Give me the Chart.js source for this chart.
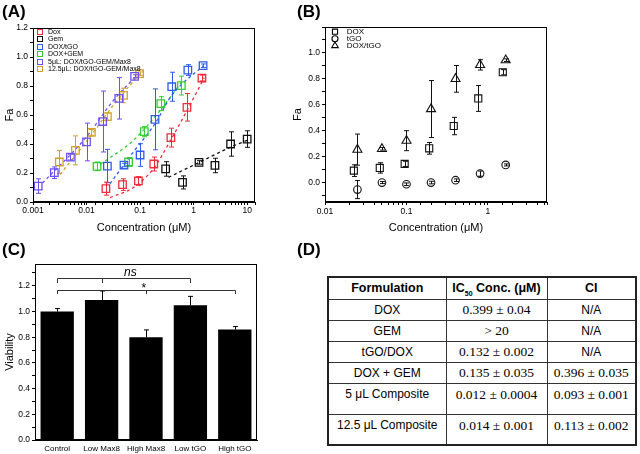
<!DOCTYPE html>
<html><head><meta charset="utf-8">
<script src="https://cdn.jsdelivr.net/npm/chart.js@4.4.1/dist/chart.umd.min.js"></script>
<style>
html,body{margin:0;padding:0;background:#fff;}
body{width:640px;height:454px;position:relative;overflow:hidden;font-family:"Liberation Sans",Arial,sans-serif;color:#000;}
canvas{position:absolute;}
.pl{position:absolute;font-weight:bold;font-size:17px;line-height:17px;}
#tbl{position:absolute;left:327px;top:276px;border-collapse:collapse;border:2px solid #222;table-layout:fixed;}
#tbl td{border:1px solid #333;text-align:center;padding:0;font-size:12px;vertical-align:middle;white-space:nowrap;color:#000;}
#tbl tr.h td{font-weight:bold;font-size:12.5px;}
#tbl td.top{vertical-align:top;padding-top:3px;}
.num{font-family:"Liberation Serif","Times New Roman",serif;font-size:13.5px;}
sub{font-size:7px;color:#000;}
</style></head><body>
<canvas id="cA" width="320" height="240" style="left:0;top:0"></canvas>
<canvas id="cB" width="360" height="240" style="left:280px;top:0"></canvas>
<canvas id="cC" width="320" height="214" style="left:0;top:240px"></canvas>
<div class="pl" style="left:2px;top:3px">(A)</div>
<div class="pl" style="left:297px;top:3px">(B)</div>
<div class="pl" style="left:2px;top:241px">(C)</div>
<div class="pl" style="left:297px;top:241px">(D)</div>
<table id="tbl"><colgroup><col style="width:118px"><col style="width:101px"><col style="width:89px"></colgroup><tbody id="tb"></tbody></table>
<script>
// ---------- Panel A data ----------
const aLegendLabels = ['Dox','Gem','DOX/tGO','DOX+GEM','5μL: DOX/tGO-GEM/Max8','12.5μL: DOX/tGO-GEM/Max8'];
const aDoxX = [0.023,0.047,0.093,0.18,0.376,0.75,1.43];
const aDoxY = [0.092,0.12,0.145,0.262,0.444,0.653,0.855];
const aDoxErr = [0.045,0.04,0.03,0.048,0.065,0.095,0.02];
const aGemX = [0.3,0.62,1.26,2.5,4.9,10];
const aGemY = [0.228,0.135,0.273,0.252,0.4,0.434];
const aGemErr = [0.05,0.045,0.012,0.05,0.084,0.057];
const aDoxTgoX = [0.0245,0.05,0.1,0.19,0.39,0.78,1.5];
const aDoxTgoY = [0.248,0.255,0.324,0.57,0.795,0.91,0.94];
const aDoxTgoErr = [0.115,0.012,0.078,0.21,0.1,0.037,0.012];
const aDoxGemX = [0.0157,0.061,0.12,0.244,0.59];
const aDoxGemY = [0.246,0.276,0.485,0.678,0.803];
const aDoxGemErr = [0.03,0.03,0.035,0.048,0.065];
const a5uLX = [0.00125,0.0025,0.005,0.01,0.02,0.04,0.079];
const a5uLY = [0.11,0.202,0.31,0.414,0.555,0.715,0.867];
const a5uLErr = [0.05,0.04,0.02,0.13,0.21,0.143,0.01];
const a12uLX = [0.0031,0.0062,0.0123,0.0245,0.049,0.098];
const a12uLY = [0.276,0.356,0.48,0.589,0.735,0.885];
const a12uLErr = [0.08,0.1,0.02,0.025,0.05,0.012];
// dashed fit curves
const fitDoxX = [0.0275,0.075,0.178,0.37,0.75,1.58];
const fitDoxY = [0.03,0.10,0.23,0.425,0.63,0.857];
const fitGemX = [0.34,1.3,5,10];
const fitGemY = [0.17,0.275,0.38,0.425];
const fitDoxTgoX = [0.0274,0.075,0.19,0.39,1.54];
const fitDoxTgoY = [0.126,0.345,0.54,0.735,0.943];
const fitDoxGemX = [0.018,0.075,0.237,0.63];
const fitDoxGemY = [0.26,0.425,0.632,0.84];
const fit5uLX = [0.0015,0.01,0.0316,0.087];
const fit5uLY = [0.13,0.45,0.70,0.874];
const fit12uLX = [0.0032,0.0116,0.037,0.107];
const fit12uLY = [0.19,0.45,0.70,0.897];
const aXTickVals = [0.001,0.01,0.1,1,10];
const aXTickLabels = ['0.001','0.01','0.1','1','10'];
const aYTickVals = [0,0.2,0.4,0.6,0.8,1.0,1.2];
const aYTickLabels = ['0.0','0.2','0.4','0.6','0.8','1.0','1.2'];

// ---------- Panel B data ----------
const bLegendLabels = ['DOX','tGO','DOX/tGO'];
const bDoxX = [0.0226,0.047,0.095,0.19,0.38,0.76,1.52];
const bDoxY = [0.092,0.113,0.144,0.264,0.436,0.649,0.851];
const bDoxErr = [0.045,0.04,0.02,0.045,0.067,0.1,0.02];
const bConc = [0.025,0.05,0.1,0.2,0.4,0.8,1.65];
const bTgoY = [-0.054,0.0,-0.013,0.0,0.018,0.069,0.136];
const bTgoErr = [0.07,0.008,0.01,0.01,0.01,0.02,0.008];
const bDoxTgoY = [0.254,0.26,0.323,0.567,0.8,0.908,0.944];
const bDoxTgoErr = [0.12,0.01,0.077,0.22,0.103,0.04,0.01];
const bXTickVals = [0.01,0.1,1];
const bXTickLabels = ['0.01','0.1','1'];
const bYTickVals = [0,0.2,0.4,0.6,0.8,1.0];
const bYTickLabels = ['0.0','0.2','0.4','0.6','0.8','1.0'];

// ---------- Panel C data ----------
const cCats = ['Control','Low Max8','High Max8','Low tGO','High tGO'];
const cVals = [1.0,1.09,0.80,1.048,0.86];
const cErr = [0.023,0.07,0.057,0.07,0.023];
const cYTickVals = [0,0.2,0.4,0.6,0.8,1.0,1.2];
const cYTickLabels = ['0.0','0.2','0.4','0.6','0.8','1.0','1.2'];
const cSigLabels = ['ns','*'];
const cSigFrom = [0,0];
const cSigTo = [3,4];
const cSigMid = [1,2];
const cSigY = [1.26,1.169];
const cSigDrop = [0.04,0.032];
const cSigTextAt = [1.65,1.95];

// ---------- Panel D data ----------
const tHeader = ['Formulation','IC<sub>50</sub> Conc. (μM)','CI'];
const tFormulation = ['DOX','GEM','tGO/DOX','DOX + GEM','5 μL Composite','12.5 μL Composite'];
const tIC50 = ['0.399 ± 0.04','> 20','0.132 ± 0.002','0.135 ± 0.035','0.012 ± 0.0004','0.014 ± 0.001'];
const tCI = ['N/A','N/A','N/A','0.396 ± 0.035','0.093 ± 0.001','0.113 ± 0.002'];

// ---------- helpers ----------
const FONT = '"Liberation Sans", Arial, sans-serif';
const TICK = 8.5;
Chart.defaults.font.family = FONT;
Chart.defaults.color = '#000';
const pts = (xs, ys) => xs.map((x,i)=>({x, y: ys[i]}));
const near = (a,b) => Math.abs(a-b) < 1e-6;
const logLab = (vals, labels) => v => { const i = vals.findIndex(t => near(Math.log10(t), Math.log10(v))); return i>=0 ? labels[i] : ''; };
const linLab = (vals, labels) => v => { const i = vals.findIndex(t => near(t, v)); return i>=0 ? labels[i] : ''; };

function drawErr(chart, args, after){
  const ds = chart.data.datasets[args.index];
  if(!ds.err || (!!ds.errAfter) !== after) return;
  const meta = args.meta, ys = chart.scales[meta.yAxisID], ctx = chart.ctx;
  ctx.save();
  ctx.strokeStyle = ds.errColor || ds.borderColor;
  ctx.lineWidth = ds.errWidth || 1;
  const cap = ds.errCap || 2;
  meta.data.forEach((el,i)=>{
    const e = ds.err[i]; if(e == null) return;
    const d = ds.data[i]; const v = (typeof d === 'object') ? d.y : d;
    const x = Math.round(el.x) + 0.5;
    const yt = ys.getPixelForValue(v+e), yb = ys.getPixelForValue(ds.errUpOnly ? v : v-e);
    ctx.beginPath();
    ctx.moveTo(x,yt); ctx.lineTo(x,yb);
    ctx.moveTo(x-cap,yt); ctx.lineTo(x+cap,yt);
    if(!ds.errUpOnly){ ctx.moveTo(x-cap,yb); ctx.lineTo(x+cap,yb); }
    ctx.stroke();
  });
  ctx.restore();
}
const errPlugin = {
  id:'errBars',
  beforeDatasetDraw(chart,args){ drawErr(chart,args,false); },
  afterDatasetDraw(chart,args){ drawErr(chart,args,true); }
};
const framePlugin = {
  id:'frame',
  afterDraw(chart){
    const ca = chart.chartArea, ctx = chart.ctx;
    ctx.save(); ctx.strokeStyle = '#000'; ctx.lineWidth = 1;
    ctx.strokeRect(Math.round(ca.left)+0.5, Math.round(ca.top)+0.5, Math.round(ca.right-ca.left)-1, Math.round(ca.bottom-ca.top)-1);
    ctx.restore();
  }
};
function marker(ctx, style, x, y, r){
  ctx.beginPath();
  if(style==='rect'){ const s=r*Math.SQRT1_2; ctx.rect(x-s,y-s,2*s,2*s); }
  else if(style==='circle'){ ctx.arc(x,y,r,0,Math.PI*2); }
  else { ctx.moveTo(x, y-r); ctx.lineTo(x+r*0.866, y+r*0.5); ctx.lineTo(x-r*0.866, y+r*0.5); ctx.closePath(); }
  ctx.stroke();
}

// ---------- Panel A ----------
const aColors = ['#ee2d3a','#111111','#2f5cea','#2fcf2f','#6c50f2','#d4a02a'];
const aSeries = [[aDoxX,aDoxY,aDoxErr],[aGemX,aGemY,aGemErr],[aDoxTgoX,aDoxTgoY,aDoxTgoErr],[aDoxGemX,aDoxGemY,aDoxGemErr],[a5uLX,a5uLY,a5uLErr],[a12uLX,a12uLY,a12uLErr]];
const aFits = [[fitDoxX,fitDoxY],[fitGemX,fitGemY],[fitDoxTgoX,fitDoxTgoY],[fitDoxGemX,fitDoxGemY],[fit5uLX,fit5uLY],[fit12uLX,fit12uLY]];
const aDatasets = [];
aFits.forEach((f,i)=>aDatasets.push({label:'fit '+aLegendLabels[i], data:pts(f[0],f[1]), showLine:true, pointRadius:0, borderColor:aColors[i], borderWidth:1.3, borderDash:[3,3], cubicInterpolationMode:'monotone', order:2}));
aSeries.forEach((s,i)=>aDatasets.push({label:aLegendLabels[i], data:pts(s[0],s[1]), err:s[2], errCap:2.5, pointStyle:'rect', pointRadius:5.3, borderWidth:1.3, borderColor:aColors[i], backgroundColor:'rgba(0,0,0,0)', showLine:false, order:1}));

const legendA = {
  id:'legendA',
  afterDraw(chart){
    const ctx = chart.ctx, ca = chart.chartArea;
    ctx.save(); ctx.font = '7px ' + FONT; ctx.textBaseline = 'middle'; ctx.lineWidth = 1;
    aLegendLabels.forEach((t,i)=>{
      const y = Math.round(ca.top + 3.7 + i*7.5);
      ctx.strokeStyle = aColors[i];
      ctx.strokeRect(Math.round(ca.left)+4.5, y-2.5, 5, 5);
      ctx.fillStyle = '#000'; ctx.fillText(t, ca.left+15, y);
    });
    ctx.restore();
  }
};

new Chart(document.getElementById('cA'), {
  type:'scatter',
  data:{datasets:aDatasets},
  options:{
    responsive:false, animation:false, devicePixelRatio:1,
    layout:{padding:{left:0,top:28,right:65,bottom:0}},
    plugins:{legend:{display:false}, tooltip:{enabled:false}},
    scales:{
      x:{type:'logarithmic', min:0.001, max:14, afterFit(s){ s.height = 38; },
        grid:{drawOnChartArea:false, tickLength:3, color:'#000'}, border:{color:'#000'},
        ticks:{autoSkip:false, maxRotation:0, padding:1, font:{size:TICK}, color:'#000', callback:logLab(aXTickVals,aXTickLabels)},
        title:{display:true, text:'Concentration (μM)', font:{size:11}, color:'#000', padding:{top:0,bottom:5}}},
      y:{min:0, max:1.2, afterFit(s){ s.width = 33; },
        grid:{drawOnChartArea:false, tickLength:3, color:'#000'}, border:{color:'#000'},
        ticks:{stepSize:0.1, autoSkip:false, padding:2, font:{size:TICK}, color:'#000', callback:linLab(aYTickVals,aYTickLabels)},
        title:{display:true, text:'Fa', font:{size:11}, color:'#000', padding:{top:3,bottom:0}}}
    }
  },
  plugins:[errPlugin, framePlugin, legendA]
});

// ---------- Panel B ----------
const bStyles = ['rect','circle','triangle'];
const bRadius = [5,3.8,5.2];
const legendB = {
  id:'legendB',
  afterDraw(chart){
    const ctx = chart.ctx, ca = chart.chartArea;
    ctx.save(); ctx.font = '8px ' + FONT; ctx.textBaseline = 'middle'; ctx.lineWidth = 1.1; ctx.strokeStyle = '#000';
    bLegendLabels.forEach((t,i)=>{
      const y = ca.top + 4.7 + i*7;
      marker(ctx, bStyles[i], ca.left+10, y, [3.6,3,3.8][i]);
      ctx.fillStyle = '#000'; ctx.fillText(t, ca.left+21.7, y);
    });
    ctx.restore();
  }
};
const bSeries = [[bDoxX,bDoxY,bDoxErr],[bConc,bTgoY,bTgoErr],[bConc,bDoxTgoY,bDoxTgoErr]];
new Chart(document.getElementById('cB'), {
  type:'scatter',
  data:{datasets: bSeries.map((s,i)=>({label:bLegendLabels[i], data:pts(s[0],s[1]), err:s[2], errCap:2.5, errColor:'#111', pointStyle:bStyles[i], pointRadius:bRadius[i], borderWidth:1.1, borderColor:'#111', backgroundColor:'rgba(0,0,0,0)'}))},
  options:{
    responsive:false, animation:false, devicePixelRatio:1,
    layout:{padding:{left:0,top:27,right:93,bottom:0}},
    plugins:{legend:{display:false}, tooltip:{enabled:false}},
    scales:{
      x:{type:'logarithmic', min:0.01, max:5.3, afterFit(s){ s.height = 38; },
        grid:{drawOnChartArea:false, tickLength:3, color:'#000'}, border:{color:'#000'},
        ticks:{autoSkip:false, maxRotation:0, padding:2, font:{size:TICK}, color:'#000', callback:logLab(bXTickVals,bXTickLabels)},
        title:{display:true, text:'Concentration (μM)', font:{size:11}, color:'#000', padding:{top:0,bottom:5}}},
      y:{min:-0.15, max:1.2, afterFit(s){ s.width = 45; },
        grid:{drawOnChartArea:false, tickLength:3, color:'#000'}, border:{color:'#000'},
        ticks:{stepSize:0.1, includeBounds:false, autoSkip:false, padding:2, font:{size:TICK}, color:'#000', callback:linLab(bYTickVals,bYTickLabels)},
        title:{display:true, text:'Fa', font:{size:11}, color:'#000', padding:{top:11,bottom:0}}}
    }
  },
  plugins:[errPlugin, framePlugin, legendB]
});

// ---------- Panel C ----------
const sigPlugin = {
  id:'sig',
  afterDatasetsDraw(chart){
    const ctx = chart.ctx, xs = chart.scales.x, ys = chart.scales.y;
    ctx.save(); ctx.strokeStyle = '#333'; ctx.lineWidth = 1; ctx.fillStyle = '#000'; ctx.textAlign = 'center';
    cSigLabels.forEach((lab,i)=>{
      const y = Math.round(ys.getPixelForValue(cSigY[i]))+0.5;
      const yd = Math.round(ys.getPixelForValue(cSigY[i]-cSigDrop[i]));
      const xa = Math.round(xs.getPixelForValue(cSigFrom[i]))+0.5;
      const xb = Math.round(xs.getPixelForValue(cSigTo[i]))+0.5;
      const xm = Math.round(xs.getPixelForValue(cSigMid[i]))+0.5;
      ctx.beginPath();
      ctx.moveTo(xa,yd); ctx.lineTo(xa,y); ctx.lineTo(xb,y); ctx.lineTo(xb,yd);
      ctx.moveTo(xm,y); ctx.lineTo(xm,yd);
      ctx.stroke();
      const xt = xs.getPixelForValue(cSigTextAt[i]);
      if(lab==='ns'){ ctx.font = 'italic 12px ' + FONT; ctx.fillText(lab, xt, y-3); }
      else { ctx.font = '12px ' + FONT; ctx.fillText(lab, xt, y+1); }
    });
    ctx.restore();
  }
};
new Chart(document.getElementById('cC'), {
  type:'bar',
  data:{labels:cCats, datasets:[{label:'Viability', data:cVals, err:cErr, errUpOnly:true, errAfter:true, errCap:2.5, errColor:'#000', backgroundColor:'#000', borderWidth:0, barPercentage:0.75, categoryPercentage:1}]},
  options:{
    responsive:false, animation:false, devicePixelRatio:1,
    layout:{padding:{left:0,top:24,right:63,bottom:0}},
    plugins:{legend:{display:false}, tooltip:{enabled:false}},
    scales:{
      x:{afterFit(s){ s.height = 14; }, grid:{display:false, drawTicks:false}, border:{display:true, color:'#000'},
        ticks:{padding:4, font:{size:8}, color:'#000', maxRotation:0, minRotation:0, autoSkip:false}},
      y:{min:0, max:1.37, afterFit(s){ s.width = 35; },
        grid:{drawOnChartArea:false, tickLength:3, color:'#000'}, border:{color:'#000'},
        ticks:{stepSize:0.1, includeBounds:false, autoSkip:false, padding:2, font:{size:TICK}, color:'#000', callback:linLab(cYTickVals,cYTickLabels)},
        title:{display:true, text:'Viability', font:{size:11}, color:'#000', padding:{top:3,bottom:0}}}
    }
  },
  plugins:[errPlugin, framePlugin, sigPlugin]
});

// ---------- Panel D (table) ----------
const rowH = [22,21,21,21,21,31,31];
const tb = document.getElementById('tb');
let html = '<tr class="h" style="height:'+rowH[0]+'px">' + tHeader.map(h=>'<td>'+h+'</td>').join('') + '</tr>';
tFormulation.forEach((f,i)=>{
  const tall = rowH[i+1] > 25;
  const cls = tall ? ' class="top"' : '';
  const isNum = s => /\d/.test(s) || s.startsWith('>');
  const cell = s => '<td'+(tall?' class="top"':'')+'>'+(isNum(s)?'<span class="num">'+s+'</span>':s)+'</td>';
  html += '<tr style="height:'+rowH[i+1]+'px"><td'+cls+'>'+f+'</td>'+cell(tIC50[i])+cell(tCI[i])+'</tr>';
});
tb.innerHTML = html;
</script>
</body></html>
